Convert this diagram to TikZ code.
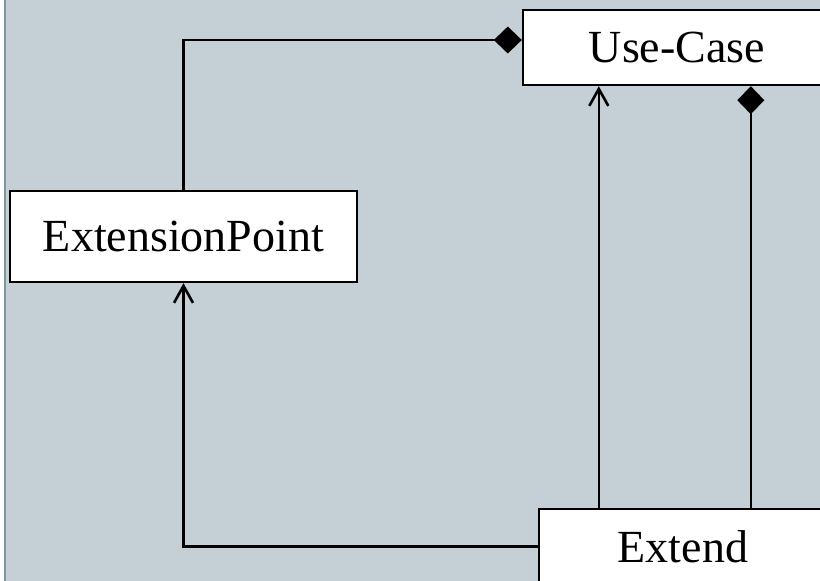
\documentclass[tikz,border=0pt]{standalone}
\usepackage{fontspec}
\setmainfont{Liberation Serif}
\usetikzlibrary{arrows.meta}
\definecolor{bgcol}{RGB}{197,208,214}
\definecolor{edgecol}{RGB}{128,154,156}
\tikzset{
  box/.style={draw=black, line width=2.4pt, fill=white, rectangle, inner sep=0pt,
    font=\fontsize{46}{54}\selectfont},
  conn/.style={draw=black, line width=2.4pt},
  comp/.style={conn, -{Diamond[length=28pt,width=27pt,fill=black,line width=0pt]}},
  nav/.style={conn, -{Straight Barb[length=17pt,width=19pt,line width=2.6pt]}},
}
\begin{document}
\begin{tikzpicture}[x=1pt,y=-1pt]
\useasboundingbox (0,0) rectangle (820,581);
\clip (0,0) rectangle (820,581);
\fill[white] (0,0) rectangle (4,581);
\fill[edgecol] (4,0) rectangle (6,581);
\fill[bgcol] (6,0) rectangle (820,581);
\node[box, minimum width=308pt, minimum height=75pt] (uc) at (677,47.5) {Use-Case};
\node[box, minimum width=347pt, minimum height=91pt] (ep) at (183.5,236.5) {ExtensionPoint};
\node[box, minimum width=288pt, minimum height=75pt] (ex) at (683,546.5) {Extend};
\draw[comp] (ep.north) |- ([yshift=7.5pt]uc.west);
\draw[nav] (ex.west) -| (ep.south);
\draw[nav] ([xshift=61pt]ex.north west) -- ([xshift=61pt]ex.north west |- uc.south);
\draw[comp] ([xshift=213pt]ex.north west) -- ([xshift=213pt]ex.north west |- uc.south);
\end{tikzpicture}
\end{document}
